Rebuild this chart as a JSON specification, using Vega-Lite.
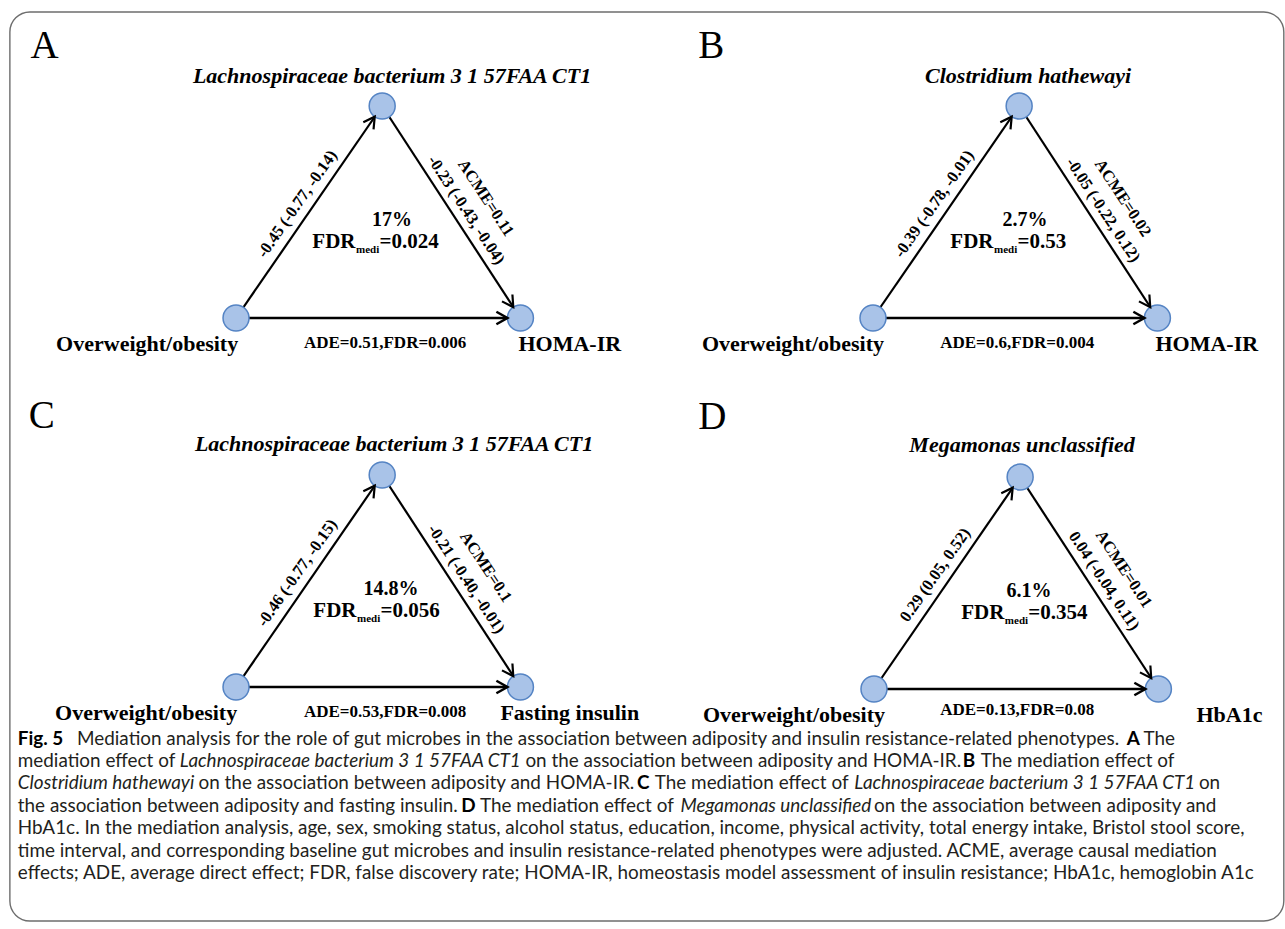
{
  "$schema": "https://vega.github.io/schema/vega-lite/v6.json",
  "width": 1285,
  "height": 929,
  "padding": 0,
  "autosize": {"type": "fit", "contains": "padding"},
  "background": "white",
  "config": {"view": {"stroke": null}},
  "datasets": {
    "frame": [{"x": 10, "x2": 1300, "y": 12, "y2": 921}],
    "edges": [
      {"panel": "A", "edge": "a", "x": 239, "y": 318, "x2": 387, "y2": 106},
      {"panel": "A", "edge": "b", "x": 387, "y": 106, "x2": 527, "y2": 318},
      {"panel": "A", "edge": "c", "x": 239, "y": 318, "x2": 527, "y2": 318},
      {"panel": "B", "edge": "a", "x": 884, "y": 318, "x2": 1032, "y2": 106},
      {"panel": "B", "edge": "b", "x": 1032, "y": 106, "x2": 1172, "y2": 318},
      {"panel": "B", "edge": "c", "x": 884, "y": 318, "x2": 1172, "y2": 318},
      {"panel": "C", "edge": "a", "x": 239, "y": 687, "x2": 387, "y2": 475},
      {"panel": "C", "edge": "b", "x": 387, "y": 475, "x2": 527, "y2": 687},
      {"panel": "C", "edge": "c", "x": 239, "y": 687, "x2": 527, "y2": 687},
      {"panel": "D", "edge": "a", "x": 885, "y": 689, "x2": 1033, "y2": 477},
      {"panel": "D", "edge": "b", "x": 1033, "y": 477, "x2": 1173, "y2": 689},
      {"panel": "D", "edge": "c", "x": 885, "y": 689, "x2": 1173, "y2": 689}
    ],
    "nodes": [
      {"panel": "A", "role": "mediator", "x": 387, "y": 106},
      {"panel": "A", "role": "exposure", "x": 239, "y": 318},
      {"panel": "A", "role": "outcome", "x": 527, "y": 318},
      {"panel": "B", "role": "mediator", "x": 1032, "y": 106},
      {"panel": "B", "role": "exposure", "x": 884, "y": 318},
      {"panel": "B", "role": "outcome", "x": 1172, "y": 318},
      {"panel": "C", "role": "mediator", "x": 387, "y": 475},
      {"panel": "C", "role": "exposure", "x": 239, "y": 687},
      {"panel": "C", "role": "outcome", "x": 527, "y": 687},
      {"panel": "D", "role": "mediator", "x": 1033, "y": 477},
      {"panel": "D", "role": "exposure", "x": 885, "y": 689},
      {"panel": "D", "role": "outcome", "x": 1173, "y": 689}
    ],
    "texts": [
      {"kind": "letter", "x": 31, "y": 58, "t": "A"},
      {"kind": "letter", "x": 707, "y": 58, "t": "B"},
      {"kind": "letter", "x": 29, "y": 428, "t": "C"},
      {"kind": "letter", "x": 707, "y": 429, "t": "D"},
      {"kind": "title", "x": 397, "y": 83, "t": "Lachnospiraceae bacterium 3 1 57FAA CT1"},
      {"kind": "title", "x": 1041, "y": 83, "t": "Clostridium hathewayi"},
      {"kind": "title", "x": 399, "y": 451, "t": "Lachnospiraceae bacterium 3 1 57FAA CT1"},
      {"kind": "title", "x": 1035, "y": 452, "t": "Megamonas unclassified"},
      {"kind": "node", "x": 149, "y": 351, "t": "Overweight/obesity"},
      {"kind": "node", "x": 577, "y": 351, "t": "HOMA-IR"},
      {"kind": "node", "x": 803, "y": 351, "t": "Overweight/obesity"},
      {"kind": "node", "x": 1222, "y": 351, "t": "HOMA-IR"},
      {"kind": "node", "x": 148, "y": 720, "t": "Overweight/obesity"},
      {"kind": "node", "x": 577, "y": 720, "t": "Fasting insulin"},
      {"kind": "node", "x": 804, "y": 722, "t": "Overweight/obesity"},
      {"kind": "node", "x": 1245, "y": 722, "t": "HbA1c"},
      {"kind": "ade", "x": 390, "y": 348, "t": "ADE=0.51,FDR=0.006"},
      {"kind": "ade", "x": 1030, "y": 348, "t": "ADE=0.6,FDR=0.004"},
      {"kind": "ade", "x": 390, "y": 717, "t": "ADE=0.53,FDR=0.008"},
      {"kind": "ade", "x": 1030, "y": 715, "t": "ADE=0.13,FDR=0.08"},
      {"kind": "pct", "x": 397, "y": 226, "t": "17%"},
      {"kind": "pct", "x": 1038, "y": 226, "t": "2.7%"},
      {"kind": "pct", "x": 396, "y": 595, "t": "14.8%"},
      {"kind": "pct", "x": 1042, "y": 597, "t": "6.1%"},
      {"kind": "fdr", "x": 360, "y": 248, "t": "=0.024"},
      {"kind": "fdr", "x": 1006, "y": 248, "t": "=0.53"},
      {"kind": "fdr", "x": 361, "y": 617, "t": "=0.056"},
      {"kind": "fdr", "x": 1017, "y": 619, "t": "=0.354"},
      {"kind": "left", "x": 301, "y": 204, "t": "-0.45 (-0.77, -0.14)"},
      {"kind": "left", "x": 946, "y": 204, "t": "-0.39 (-0.78, -0.01)"},
      {"kind": "left", "x": 301, "y": 573, "t": "-0.46 (-0.77, -0.15)"},
      {"kind": "left", "x": 947, "y": 575, "t": "0.29 (0.05, 0.52)"},
      {"kind": "right", "x": 472, "y": 210, "t": "-0.23 (-0.43, -0.04)"},
      {"kind": "right", "x": 1117, "y": 210, "t": "-0.05 (-0.22, 0.12)"},
      {"kind": "right", "x": 472, "y": 579, "t": "-0.21 (-0.40, -0.01)"},
      {"kind": "right", "x": 1118, "y": 581, "t": "0.04 (-0.04, 0.11)"},
      {"kind": "right", "x": 492, "y": 198, "t": "ACME=0.11"},
      {"kind": "right", "x": 1137, "y": 198, "t": "ACME=0.02"},
      {"kind": "right", "x": 492, "y": 567, "t": "ACME=0.1"},
      {"kind": "right", "x": 1138, "y": 569, "t": "ACME=0.01"},
      {"kind": "capb", "line": 1, "x": 18, "y": 745, "t": "Fig. 5"},
      {"kind": "capr", "line": 1, "x": 78, "y": 745, "t": "Mediation analysis for the role of gut microbes in the association between adiposity and insulin resistance-related phenotypes."},
      {"kind": "capb", "line": 1, "x": 1141, "y": 745, "t": "A"},
      {"kind": "capr", "line": 1, "x": 1158, "y": 745, "t": "The"},
      {"kind": "capr", "line": 2, "x": 18, "y": 767, "t": "mediation effect of"},
      {"kind": "capi", "line": 2, "x": 182, "y": 767, "t": "Lachnospiraceae bacterium 3 1 57FAA CT1"},
      {"kind": "capr", "line": 2, "x": 532, "y": 767, "t": "on the association between adiposity and HOMA-IR."},
      {"kind": "capb", "line": 2, "x": 975, "y": 767, "t": "B"},
      {"kind": "capr", "line": 2, "x": 993, "y": 767, "t": "The mediation effect of"},
      {"kind": "capi", "line": 3, "x": 18, "y": 789, "t": "Clostridium hathewayi"},
      {"kind": "capr", "line": 3, "x": 201, "y": 789, "t": "on the association between adiposity and HOMA-IR."},
      {"kind": "capb", "line": 3, "x": 645, "y": 789, "t": "C"},
      {"kind": "capr", "line": 3, "x": 663, "y": 789, "t": "The mediation effect of"},
      {"kind": "capi", "line": 3, "x": 865, "y": 789, "t": "Lachnospiraceae bacterium 3 1 57FAA CT1"},
      {"kind": "capr", "line": 3, "x": 1214, "y": 789, "t": "on"},
      {"kind": "capr", "line": 4, "x": 18, "y": 812, "t": "the association between adiposity and fasting insulin."},
      {"kind": "capb", "line": 4, "x": 467, "y": 812, "t": "D"},
      {"kind": "capr", "line": 4, "x": 486, "y": 812, "t": "The mediation effect of"},
      {"kind": "capi", "line": 4, "x": 689, "y": 812, "t": "Megamonas unclassified"},
      {"kind": "capr", "line": 4, "x": 885, "y": 812, "t": "on the association between adiposity and"},
      {"kind": "capr", "line": 5, "x": 18, "y": 834, "t": "HbA1c. In the mediation analysis, age, sex, smoking status, alcohol status, education, income, physical activity, total energy intake, Bristol stool score,"},
      {"kind": "capr", "line": 6, "x": 18, "y": 857, "t": "time interval, and corresponding baseline gut microbes and insulin resistance-related phenotypes were adjusted. ACME, average causal mediation"},
      {"kind": "capr", "line": 7, "x": 18, "y": 879, "t": "effects; ADE, average direct effect; FDR, false discovery rate; HOMA-IR, homeostasis model assessment of insulin resistance; HbA1c, hemoglobin A1c"}
    ]
  },
  "encoding": {
    "x": {"field": "x", "type": "quantitative", "axis": null, "scale": {"domain": [0, 1285], "nice": false, "zero": false}},
    "y": {"field": "y", "type": "quantitative", "axis": null, "scale": {"domain": [0, 929], "nice": false, "zero": false, "reverse": true}}
  },
  "layer": [
    {
      "data": {"name": "frame"},
      "mark": {"type": "rect", "fill": null, "stroke": "#6e6e6e", "strokeWidth": 1.4, "cornerRadius": 20, "clip": false},
      "encoding": {"x2": {"field": "x2"}, "y2": {"field": "y2"}}
    },
    {
      "data": {"name": "edges"},
      "transform": [{"filter": "datum.edge !== 'c'"}],
      "mark": {"type": "rule", "stroke": "#000000", "strokeWidth": 2.2},
      "encoding": {"x2": {"field": "x2"}, "y2": {"field": "y2"}}
    },
    {
      "data": {"name": "edges"},
      "transform": [{"filter": "datum.edge === 'c'"}],
      "mark": {"type": "rule", "stroke": "#000000", "strokeWidth": 2.7},
      "encoding": {"x2": {"field": "x2"}, "y2": {"field": "y2"}}
    },
    {
      "data": {"name": "nodes"},
      "mark": {"type": "point", "shape": "circle", "filled": true, "fill": "#a9c3e8", "stroke": "#5584c4", "strokeWidth": 1.5, "size": 676, "opacity": 1}
    },
    {
      "data": {"name": "edges"},
      "transform": [{"filter": "datum.edge === 'a'"}],
      "mark": {"type": "point", "shape": "M-1.85,-0.48L-1,0L-1.85,0.48", "filled": false, "stroke": "#000000", "strokeWidth": 2.2, "size": 676, "angle": -55.1, "opacity": 1},
      "encoding": {"x": {"field": "x2", "type": "quantitative"}, "y": {"field": "y2", "type": "quantitative"}}
    },
    {
      "data": {"name": "edges"},
      "transform": [{"filter": "datum.edge === 'b'"}],
      "mark": {"type": "point", "shape": "M-1.85,-0.48L-1,0L-1.85,0.48", "filled": false, "stroke": "#000000", "strokeWidth": 2.2, "size": 676, "angle": 56.6, "opacity": 1},
      "encoding": {"x": {"field": "x2", "type": "quantitative"}, "y": {"field": "y2", "type": "quantitative"}}
    },
    {
      "data": {"name": "edges"},
      "transform": [{"filter": "datum.edge === 'c'"}],
      "mark": {"type": "point", "shape": "M-1.85,-0.48L-1,0L-1.85,0.48", "filled": false, "stroke": "#000000", "strokeWidth": 2.5, "size": 676, "angle": 0, "opacity": 1},
      "encoding": {"x": {"field": "x2", "type": "quantitative"}, "y": {"field": "y2", "type": "quantitative"}}
    },
    {
      "data": {"name": "texts"},
      "transform": [{"filter": "datum.kind === 'letter'"}],
      "mark": {"type": "text", "font": "Liberation Serif", "fontSize": 39, "align": "left", "baseline": "alphabetic", "color": "#000000"},
      "encoding": {"text": {"field": "t"}}
    },
    {
      "data": {"name": "texts"},
      "transform": [{"filter": "datum.kind === 'title'"}],
      "mark": {"type": "text", "font": "Liberation Serif", "fontSize": 22, "fontWeight": "bold", "fontStyle": "italic", "align": "center", "baseline": "alphabetic", "color": "#000000"},
      "encoding": {"text": {"field": "t"}}
    },
    {
      "data": {"name": "texts"},
      "transform": [{"filter": "datum.kind === 'node'"}],
      "mark": {"type": "text", "font": "Liberation Serif", "fontSize": 22, "fontWeight": "bold", "align": "center", "baseline": "alphabetic", "color": "#000000"},
      "encoding": {"text": {"field": "t"}}
    },
    {
      "data": {"name": "texts"},
      "transform": [{"filter": "datum.kind === 'ade'"}],
      "mark": {"type": "text", "font": "Liberation Serif", "fontSize": 17, "fontWeight": "bold", "align": "center", "baseline": "alphabetic", "color": "#000000"},
      "encoding": {"text": {"field": "t"}}
    },
    {
      "data": {"name": "texts"},
      "transform": [{"filter": "datum.kind === 'pct'"}],
      "mark": {"type": "text", "font": "Liberation Serif", "fontSize": 20, "fontWeight": "bold", "align": "center", "baseline": "alphabetic", "color": "#000000"},
      "encoding": {"text": {"field": "t"}}
    },
    {
      "data": {"name": "texts"},
      "transform": [{"filter": "datum.kind === 'fdr'"}],
      "mark": {"type": "text", "font": "Liberation Serif", "fontSize": 21, "fontWeight": "bold", "align": "right", "baseline": "alphabetic", "color": "#000000"},
      "encoding": {"text": {"value": "FDR"}}
    },
    {
      "data": {"name": "texts"},
      "transform": [{"filter": "datum.kind === 'fdr'"}],
      "mark": {"type": "text", "font": "Liberation Serif", "fontSize": 11, "fontWeight": "bold", "align": "left", "baseline": "alphabetic", "dy": 5, "dx": 0.5, "color": "#000000"},
      "encoding": {"text": {"value": "medi"}}
    },
    {
      "data": {"name": "texts"},
      "transform": [{"filter": "datum.kind === 'fdr'"}],
      "mark": {"type": "text", "font": "Liberation Serif", "fontSize": 21, "fontWeight": "bold", "align": "left", "baseline": "alphabetic", "dx": 24, "color": "#000000"},
      "encoding": {"text": {"field": "t"}}
    },
    {
      "data": {"name": "texts"},
      "transform": [{"filter": "datum.kind === 'left'"}],
      "mark": {"type": "text", "font": "Liberation Serif", "fontSize": 16.5, "fontWeight": "bold", "align": "center", "baseline": "middle", "angle": -55.1, "color": "#000000"},
      "encoding": {"text": {"field": "t"}}
    },
    {
      "data": {"name": "texts"},
      "transform": [{"filter": "datum.kind === 'right'"}],
      "mark": {"type": "text", "font": "Liberation Serif", "fontSize": 16.5, "fontWeight": "bold", "align": "center", "baseline": "middle", "angle": 56.6, "color": "#000000"},
      "encoding": {"text": {"field": "t"}}
    },
    {
      "data": {"name": "texts"},
      "transform": [{"filter": "datum.kind === 'capr'"}],
      "mark": {"type": "text", "font": "Lato", "fontSize": 18.9, "align": "left", "baseline": "alphabetic", "color": "#231f20"},
      "encoding": {"text": {"field": "t"}}
    },
    {
      "data": {"name": "texts"},
      "transform": [{"filter": "datum.kind === 'capi'"}],
      "mark": {"type": "text", "font": "Lato", "fontSize": 18.9, "fontStyle": "italic", "align": "left", "baseline": "alphabetic", "color": "#231f20"},
      "encoding": {"text": {"field": "t"}}
    },
    {
      "data": {"name": "texts"},
      "transform": [{"filter": "datum.kind === 'capb'"}],
      "mark": {"type": "text", "font": "Lato", "fontSize": 18.9, "fontWeight": "bold", "align": "left", "baseline": "alphabetic", "color": "#000000"},
      "encoding": {"text": {"field": "t"}}
    }
  ]
}
